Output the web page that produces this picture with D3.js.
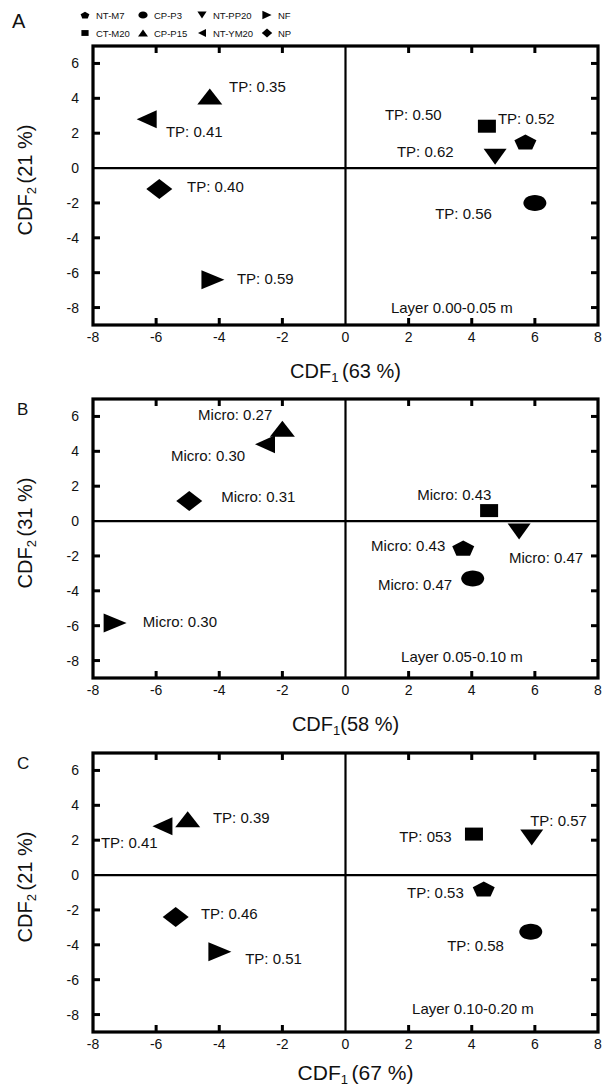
<!DOCTYPE html>
<html>
<head>
    <script src="https://cdnjs.cloudflare.com/ajax/libs/d3/7.8.5/d3.min.js"></script>
    <style>
        body { margin: 0; background: #fff; }
        text { font-family: "Liberation Sans", Arial, sans-serif; fill: #111; }
    </style>
</head>
<body>
    <div id="chart"></div>
    <script>
        const width = 608, height = 1090;

        // groups, in the same order as every value array below
        const groups = ["NT-M7", "CT-M20", "CP-P3", "CP-P15", "NT-PP20", "NT-YM20", "NF", "NP"];
        const shapes = ["pentagon", "square", "circle", "up", "down", "left", "right", "diamond"];
        const legendOrder = ["NT-M7", "CP-P3", "NT-PP20", "NF", "CT-M20", "CP-P15", "NT-YM20", "NP"];

        const xTicks = [-8, -6, -4, -2, 0, 2, 4, 6, 8];
        const yTicks = [6, 4, 2, 0, -2, -4, -6, -8];

        // Layer 0.00-0.05 m
        const cdf1A = [5.7, 4.48, 6.0, -4.3, 4.74, -6.3, -4.2, -5.9];
        const cdf2A = [1.5, 2.4, -2.0, 4.1, 0.65, 2.8, -6.4, -1.2];
        const textA = ["TP: 0.52", "TP: 0.50", "TP: 0.56", "TP: 0.35", "TP: 0.62", "TP: 0.41", "TP: 0.59", "TP: 0.40"];
        const textXA = [4.83, 1.25, 2.84, -3.69, 1.63, -5.69, -3.44, -5.02];
        const textYA = [2.83, 3.06, -2.6, 4.68, 0.92, 2.08, -6.36, -1.1];

        // Layer 0.05-0.10 m
        const cdf1B = [3.73, 4.55, 4.03, -2.0, 5.5, -2.55, -7.3, -4.95];
        const cdf2B = [-1.55, 0.6, -3.3, 5.3, -0.6, 4.4, -5.85, 1.15];
        const textB = ["Micro: 0.43", "Micro: 0.43", "Micro: 0.47", "Micro: 0.27", "Micro: 0.47", "Micro: 0.30", "Micro: 0.30", "Micro: 0.31"];
        const textXB = [0.81, 2.27, 1.03, -4.67, 5.18, -5.53, -6.42, -3.94];
        const textYB = [-1.39, 1.5, -3.64, 6.07, -2.08, 3.76, -5.78, 1.39];

        // Layer 0.10-0.20 m
        const cdf1C = [4.38, 4.07, 5.87, -5.0, 5.9, -5.8, -3.98, -5.38];
        const cdf2C = [-0.8, 2.35, -3.25, 3.2, 2.15, 2.8, -4.4, -2.4];
        const textC = ["TP: 0.53", "TP: 053", "TP: 0.58", "TP: 0.39", "TP: 0.57", "TP: 0.41", "TP: 0.51", "TP: 0.46"];
        const textXC = [1.95, 1.7, 3.22, -4.2, 5.85, -7.75, -3.18, -4.58];
        const textYC = [-1.04, 2.2, -4.08, 3.29, 3.12, 1.85, -4.8, -2.2];

        const panelLetters = ["A", "B", "C"];
        const layerNames = ["Layer 0.00-0.05 m", "Layer 0.05-0.10 m", "Layer 0.10-0.20 m"];
        const layerX = [1.44, 1.76, 2.11];
        const layerY = [-8.03, -7.8, -7.69];
        const cdf1Pct = ["63", "58", "67"];
        const cdf2Pct = ["21", "31", "21"];

        const panels = [
            { x: cdf1A, y: cdf2A, t: textA, tx: textXA, ty: textYA },
            { x: cdf1B, y: cdf2B, t: textB, tx: textXB, ty: textYB },
            { x: cdf1C, y: cdf2C, t: textC, tx: textXC, ty: textYC }
        ];

        // layout
        const left = 93, right = 598, plotH = 279;
        const tops = [46, 399, 753];
        const titleGap = ["1 ", "1", "1 "];

        // marker path, half width w, half height h
        function markerPath(shape, w, h) {
            const p = d3.path();
            if (shape === "circle") {
                const k = 0.5523;
                p.moveTo(w, 0);
                p.bezierCurveTo(w, h * k, w * k, h, 0, h);
                p.bezierCurveTo(-w * k, h, -w, h * k, -w, 0);
                p.bezierCurveTo(-w, -h * k, -w * k, -h, 0, -h);
                p.bezierCurveTo(w * k, -h, w, -h * k, w, 0);
            } else {
                let pts;
                if (shape === "square") pts = [[-w, -h], [w, -h], [w, h], [-w, h]];
                if (shape === "up") pts = [[0, -h], [w, h], [-w, h]];
                if (shape === "down") pts = [[-w, -h], [w, -h], [0, h]];
                if (shape === "left") pts = [[-w, 0], [w, -h], [w, h]];
                if (shape === "right") pts = [[-w, -h], [w, 0], [-w, h]];
                if (shape === "diamond") pts = [[0, -h], [w, 0], [0, h], [-w, 0]];
                if (shape === "pentagon") {
                    pts = d3.range(5).map(i => {
                        const a = -Math.PI / 2 + i * 2 * Math.PI / 5;
                        return [w * Math.cos(a) / 0.951, h * (Math.sin(a) + 0.1) / 0.9];
                    });
                }
                p.moveTo(pts[0][0], pts[0][1]);
                pts.slice(1).forEach(q => p.lineTo(q[0], q[1]));
            }
            p.closePath();
            return p.toString();
        }
        const markerSize = {
            pentagon: [11, 7.5], square: [9, 6.5], circle: [11.5, 8], up: [12.5, 8],
            down: [11.5, 8], left: [10, 9], right: [11.5, 9.5], diamond: [13, 10]
        };

        const svg = d3.select("#chart").append("svg")
            .attr("width", width).attr("height", height);

        // legend
        const legend = svg.append("g");
        const legendX = [85, 143, 202, 267];
        const legendY = [15, 33];
        legendOrder.forEach((g, i) => {
            const gx = legendX[i % 4], gy = legendY[Math.floor(i / 4)];
            const s = shapes[groups.indexOf(g)];
            const sz = markerSize[s];
            legend.append("path")
                .attr("d", markerPath(s, sz[0] * 0.4, sz[1] * 0.45))
                .attr("transform", `translate(${gx},${gy})`)
                .attr("fill", "#000");
            legend.append("text")
                .attr("x", gx + 11).attr("y", gy + 4)
                .attr("font-size", 9.5)
                .text(g);
        });

        panels.forEach((pd, pi) => {
            const top = tops[pi], bottom = top + plotH;
            const x = d3.scaleLinear().domain([-8, 8]).range([left, right]);
            const y = d3.scaleLinear().domain([-9, 7]).range([bottom, top]);
            const g = svg.append("g");

            // inward ticks on all four sides
            const inner = xTicks.filter(t => t !== -8 && t !== 8 && t !== 0);
            g.selectAll(".tb").data(inner).enter().append("line")
                .attr("x1", d => x(d)).attr("x2", d => x(d))
                .attr("y1", top).attr("y2", top + 7)
                .attr("stroke", "#000").attr("stroke-width", 3);
            g.selectAll(".bb").data(inner).enter().append("line")
                .attr("x1", d => x(d)).attr("x2", d => x(d))
                .attr("y1", bottom).attr("y2", bottom - 7)
                .attr("stroke", "#000").attr("stroke-width", 3);
            g.selectAll(".lt").data(yTicks.filter(t => t !== 0)).enter().append("line")
                .attr("x1", left).attr("x2", left + 7)
                .attr("y1", d => y(d)).attr("y2", d => y(d))
                .attr("stroke", "#000").attr("stroke-width", 3);
            g.selectAll(".rt").data(yTicks.filter(t => t !== 0)).enter().append("line")
                .attr("x1", right).attr("x2", right - 7)
                .attr("y1", d => y(d)).attr("y2", d => y(d))
                .attr("stroke", "#000").attr("stroke-width", 3);

            // zero lines
            g.append("line").attr("x1", x(0)).attr("x2", x(0))
                .attr("y1", top).attr("y2", bottom)
                .attr("stroke", "#000").attr("stroke-width", 2.2);
            g.append("line").attr("x1", left).attr("x2", right)
                .attr("y1", y(0)).attr("y2", y(0))
                .attr("stroke", "#000").attr("stroke-width", 2.2);

            // frame
            g.append("rect")
                .attr("x", left).attr("y", top)
                .attr("width", right - left).attr("height", plotH)
                .attr("fill", "none").attr("stroke", "#000").attr("stroke-width", 3.2);

            // tick labels
            g.selectAll(".xl").data(xTicks).enter().append("text")
                .attr("x", d => x(d)).attr("y", bottom + 17)
                .attr("text-anchor", "middle").attr("font-size", 14)
                .text(d => d);
            g.selectAll(".yl").data(yTicks).enter().append("text")
                .attr("x", left - 14).attr("y", d => y(d) + 5)
                .attr("text-anchor", "end").attr("font-size", 14)
                .text(d => d);

            // points
            g.selectAll(".pt").data(groups).enter().append("path")
                .attr("d", (d, i) => markerPath(shapes[i], markerSize[shapes[i]][0], markerSize[shapes[i]][1]))
                .attr("transform", (d, i) => `translate(${x(pd.x[i])},${y(pd.y[i])})`)
                .attr("fill", "#000");

            // point labels
            g.selectAll(".lab").data(pd.t).enter().append("text")
                .attr("x", (d, i) => x(pd.tx[i]))
                .attr("y", (d, i) => y(pd.ty[i]))
                .attr("dy", "0.35em")
                .attr("font-size", 15)
                .text(d => d);

            g.append("text")
                .attr("x", x(layerX[pi])).attr("y", y(layerY[pi]))
                .attr("dy", "0.35em").attr("font-size", 15)
                .text(layerNames[pi]);

            // panel letter
            g.append("text")
                .attr("x", pi === 0 ? 12 : 17).attr("y", pi === 0 ? 28 : top + 16)
                .attr("font-size", pi === 0 ? 20 : 17)
                .text(panelLetters[pi]);

            // axis titles
            const xt = g.append("text")
                .attr("x", (left + right) / 2 + (pi === 2 ? 10 : 0)).attr("y", bottom + (pi === 2 ? 48 : 53))
                .attr("text-anchor", "middle").attr("font-size", pi === 2 ? 21 : 20);
            xt.append("tspan").text("CDF");
            xt.append("tspan").attr("font-size", 13).attr("dy", 4).text(titleGap[pi]);
            xt.append("tspan").attr("dy", -4).text(`(${cdf1Pct[pi]} %)`);

            const yt = g.append("text")
                .attr("transform", `translate(32,${top + 134}) rotate(-90)`)
                .attr("text-anchor", "middle").attr("font-size", 20);
            yt.append("tspan").text("CDF");
            yt.append("tspan").attr("font-size", 13).attr("dy", 4).text("2 ");
            yt.append("tspan").attr("dy", -4).text(`(${cdf2Pct[pi]} %)`);
        });
    </script>
</body>
</html>
